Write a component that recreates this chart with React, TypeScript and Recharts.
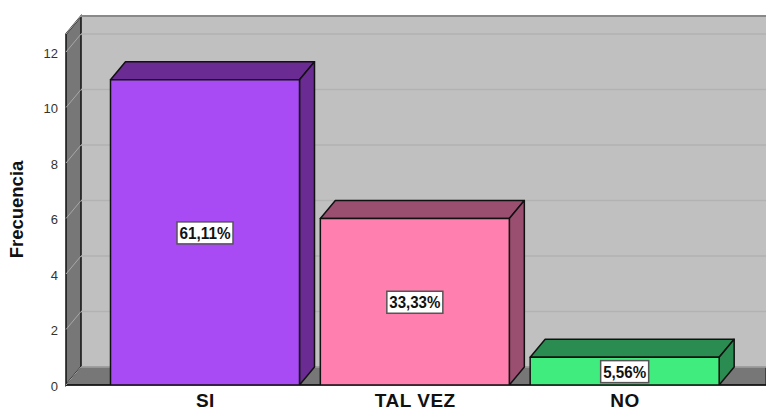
import React from 'react';
import { BarChart, Bar, XAxis, YAxis, LabelList, CartesianGrid, usePlotArea } from 'recharts';

const categories = ['SI', 'TAL VEZ', 'NO'];
const frequencies = [11, 6, 1];
const percentLabels = ['61,11%', '33,33%', '5,56%'];
const yTicks = [0, 2, 4, 6, 8, 10, 12];

const frontColors = ['#A94BF5', '#FF7FAE', '#40EC7E'];
const sideColors = ['#6A2B92', '#9A4F70', '#2A8C50'];

const data = categories.map((name, i) => ({ name, value: frequencies[i], label: percentLabels[i] }));

// offset of the 3D depth
const DX = 15;
const DY = 18;
const EDGE = '#111111';

const Walls = () => {
    const area = usePlotArea();
    if (!area) return null;
    const { x, y, width, height } = area;
    const bottom = y + height;
    const right = x + width;
    return (
        <g>
            <rect x={x + DX} y={y - DY} width={width - DX} height={height} fill="#C0C0C0" />
            <polygon
                points={`${x},${y} ${x + DX},${y - DY} ${x + DX},${bottom - DY} ${x},${bottom}`}
                fill="#777777"
                stroke={EDGE}
                strokeWidth={1.5}
            />
            <polygon
                points={`${x},${bottom} ${x + DX},${bottom - DY} ${right},${bottom - DY} ${right},${bottom}`}
                fill="#777777"
                stroke={EDGE}
                strokeWidth={1}
            />
            <line x1={x + DX} y1={y - DY} x2={right} y2={y - DY} stroke={EDGE} strokeWidth={2} />
            <line x1={x} y1={bottom} x2={right} y2={bottom} stroke={EDGE} strokeWidth={1.5} />
        </g>
    );
};

const gridLine = (props: any) => {
    const { x1, y1, x2, y2, index } = props;
    return (
        <g key={index}>
            <line x1={x1} y1={y1} x2={x1 + DX} y2={y1 - DY} stroke="#A8A8A8" strokeWidth={1} />
            <line x1={x1 + DX} y1={y1 - DY} x2={x2} y2={y2 - DY} stroke="#B2B2B2" strokeWidth={1.5} />
        </g>
    );
};

const Box3D = (props: any) => {
    const { x, y, width, height, index } = props;
    const r = x + width;
    const b = y + height;
    return (
        <g stroke={EDGE} strokeWidth={1.5} strokeLinejoin="round">
            <polygon
                points={`${x},${y} ${x + DX},${y - DY} ${r + DX},${y - DY} ${r},${y}`}
                fill={sideColors[index]}
            />
            <polygon
                points={`${r},${y} ${r + DX},${y - DY} ${r + DX},${b - DY} ${r},${b}`}
                fill={sideColors[index]}
            />
            <rect x={x} y={y} width={width} height={height} fill={frontColors[index]} />
        </g>
    );
};

const PercentLabel = (props: any) => {
    const { x, y, width, height, value } = props;
    const cx = x + width / 2;
    const cy = y + height / 2 + 0.5;
    const long = value.length > 5;
    const w = long ? 56 : 48;
    return (
        <g>
            <rect x={cx - w / 2} y={cy - 11} width={w} height={22} fill="#FFFFFF" stroke="#555555" strokeWidth={1.5} />
            <text
                x={cx}
                y={cy + 6}
                textAnchor="middle"
                fontFamily='"Liberation Sans", sans-serif'
                fontWeight="bold"
                fontSize={16}
                fill="#111111"
                textLength={long ? 51 : 43}
                lengthAdjust="spacingAndGlyphs"
            >
                {value}
            </text>
        </g>
    );
};

export default function App() {
    return (
        <div style={{ position: 'absolute', left: 0, top: 0, width: 766, height: 411, overflow: 'hidden', background: '#FFFFFF' }}>
            <BarChart
                width={766}
                height={411}
                data={data}
                margin={{ top: 34, right: 0, bottom: 0, left: 0 }}
                barSize={189}
            >
                <Walls />
                <CartesianGrid vertical={false} horizontal={gridLine} zIndex={1} />
                <XAxis
                    dataKey="name"
                    padding={{ left: 34.5, right: 36 }}
                    axisLine={false}
                    tickLine={false}
                    interval={0}
                    height={26}
                    tickMargin={3}
                    tick={{ fill: '#111111', fontSize: 19, fontWeight: 'bold', letterSpacing: 0.5, fontFamily: '"Liberation Sans", Arial, sans-serif' }}
                />
                <YAxis
                    width={66}
                    domain={[0, 12.65]}
                    ticks={yTicks}
                    allowDataOverflow
                    axisLine={false}
                    tickLine={false}
                    tickMargin={2}
                    tick={{ fill: '#333333', fontSize: 13, dy: 1, fontFamily: '"Liberation Sans", Arial, sans-serif' }}
                    label={{
                        value: 'Frecuencia',
                        angle: -90,
                        position: 'insideLeft',
                        offset: 16,
                        style: { fill: '#111111', fontSize: 18.5, fontWeight: 'bold', fontFamily: '"Liberation Sans", Arial, sans-serif', textAnchor: 'middle' },
                    }}
                />
                <Bar dataKey="value" shape={(p: any) => <Box3D {...p} />} isAnimationActive={false}>
                    <LabelList dataKey="label" content={(p: any) => <PercentLabel {...p} />} />
                </Bar>
            </BarChart>
        </div>
    );
}
